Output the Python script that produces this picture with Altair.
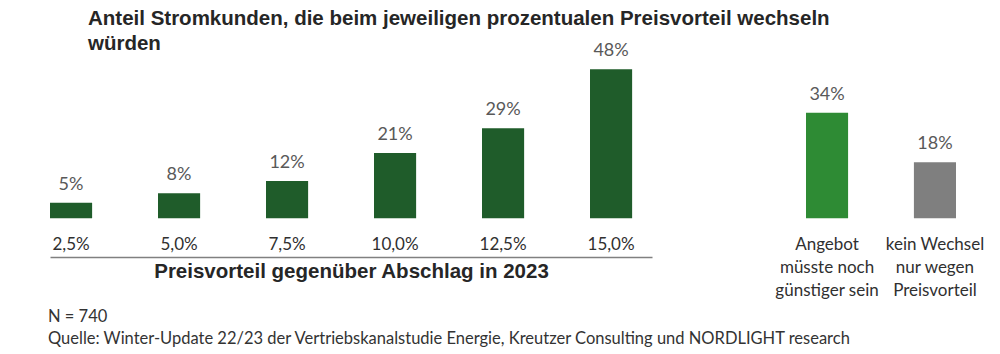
import altair as alt
import pandas as pd

# --- data ---
left_cats = ["2,5%", "5,0%", "7,5%", "10,0%", "12,5%", "15,0%"]
left_vals = [5, 8, 12, 21, 29, 48]
right_cats = ["Angebot\nmüsste noch\ngünstiger sein", "kein Wechsel\nnur wegen\nPreisvorteil"]
right_vals = [34, 18]
right_colors = ["#2e8b34", "#7f7f7f"]

title_lines = ["Anteil Stromkunden, die beim jeweiligen prozentualen Preisvorteil wechseln", "würden"]
x_title = "Preisvorteil gegenüber Abschlag in 2023"
footer_lines = ["N = 740", "Quelle: Winter-Update 22/23 der Vertriebskanalstudie Energie, Kreutzer Consulting und NORDLIGHT research"]

DARK_GREEN = "#1f5c2a"
LABEL_FONT = "Lato"
TITLE_FONT = "Liberation Sans"

left_df = pd.DataFrame({"cat": left_cats, "val": left_vals, "lbl": [f"{v}%" for v in left_vals]})
right_df = pd.DataFrame({"cat": right_cats, "val": right_vals, "color": right_colors,
                         "lbl": [f"{v}%" for v in right_vals]})

y_scale = alt.Scale(domain=[-12.5, 50], nice=False, zero=False)
y_enc = alt.Y("val:Q", scale=y_scale, axis=None)
y2_enc = alt.Y2(datum=0)

# left chart
lx = alt.X("cat:N", sort=left_cats,
           scale=alt.Scale(paddingInner=0.61, paddingOuter=0.092, align=0),
           axis=alt.Axis(title=x_title, labelAngle=0, ticks=False, domain=True,
                         domainColor="#808080", domainWidth=1.5,
                         labelPadding=-21, labelFont=LABEL_FONT, labelFontSize=17,
                         labelColor="#303030", titleFont=TITLE_FONT, titleFontSize=20.5,
                         titleFontWeight="bold", titleColor="#262626", titlePadding=4))
lbase = alt.Chart(left_df)
lbars = lbase.mark_bar(color=DARK_GREEN).encode(x=lx, y=y_enc, y2=y2_enc)
ltext = lbase.mark_text(dy=-13, baseline="alphabetic", font=LABEL_FONT, fontSize=18,
                        color="#595959").encode(x=alt.X("cat:N", sort=left_cats), y="val:Q", text="lbl:N")
left = alt.layer(lbars, ltext).properties(
    width=602, height=194,
    title=alt.TitleParams(footer_lines, orient="bottom", anchor="start", font=LABEL_FONT,
                          fontSize=16.5, fontWeight="normal", color="#333333", lineHeight=22,
                          offset=27, dx=-2))

# right chart
rx = alt.X("cat:N", sort=right_cats,
           scale=alt.Scale(paddingInner=0.61, paddingOuter=0, align=0),
           axis=alt.Axis(title=None, labelAngle=0, ticks=False, domain=False,
                         labelPadding=-21, labelFont=LABEL_FONT, labelFontSize=17,
                         labelColor="#303030", labelLineHeight=23,
                         labelExpr="split(datum.label, '\\n')"))
rbase = alt.Chart(right_df)
rbars = rbase.mark_bar().encode(x=rx, y=y_enc, y2=y2_enc,
                                color=alt.Color("color:N", scale=None))
rtext = rbase.mark_text(dy=-13, baseline="alphabetic", font=LABEL_FONT, fontSize=18,
                        color="#595959").encode(x=alt.X("cat:N", sort=right_cats), y="val:Q", text="lbl:N")
right = alt.layer(rbars, rtext).properties(width=150, height=194)

chart = alt.hconcat(left, right, spacing=154, bounds="flush").properties(
    title=alt.TitleParams(title_lines, anchor="start", font=TITLE_FONT, fontSize=20.5,
                          fontWeight="bold", color="#262626", lineHeight=25, dx=40, offset=-12),
    padding={"left": 48, "top": 8, "right": 5, "bottom": 5},
    background="white",
).configure_view(stroke=None)

chart.save("out.html", embed_options={"renderer": "svg", "actions": False})
